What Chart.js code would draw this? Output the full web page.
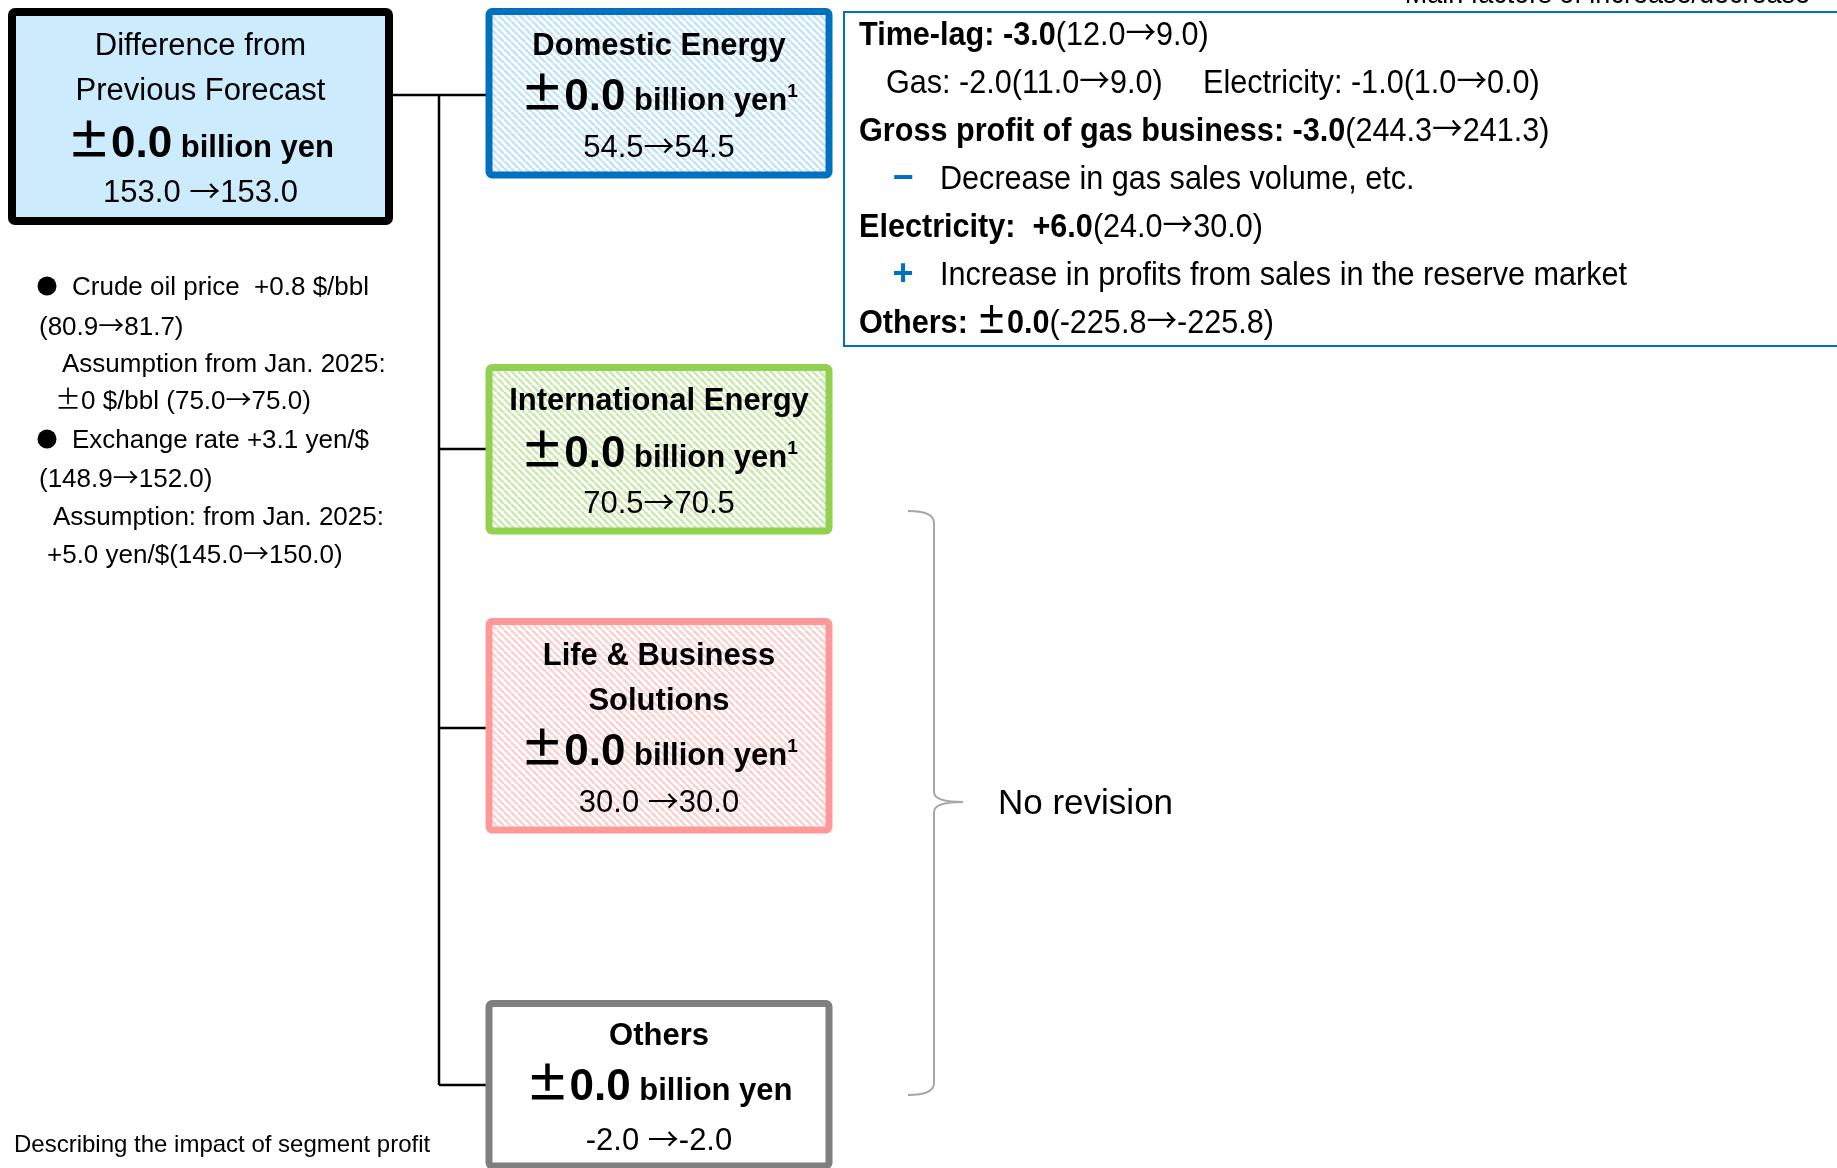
<!DOCTYPE html>
<html>
<head>
<meta charset="utf-8">
<script src="https://cdn.jsdelivr.net/npm/chart.js@4.4.1/dist/chart.umd.min.js"></script>
<style>
    html, body { margin: 0; padding: 0; background: #fff; overflow: hidden; }
    #wrap { width: 1837px; height: 1168px; position: relative; }
</style>
</head>
<body>
<div id="wrap"><canvas id="profitChart"></canvas></div>
<script>
// values
const totalTitle = ['Difference from', 'Previous Forecast'];
const totalPrev = 153.0;
const totalCurr = 153.0;

const segmentNames = [['Domestic Energy'], ['International Energy'], ['Life & Business', 'Solutions'], ['Others']];
const segmentPrev = [54.5, 70.5, 30.0, -2.0];
const segmentCurr = [54.5, 70.5, 30.0, -2.0];
const segmentNote = ['1', '1', '1', ''];
const segmentArrow = ['→', '→', ' →', ' →'];

const factorTitle = 'Main factors of increase/decrease';
const factorBold = ['Time-lag: -3.0', '', 'Gross profit of gas business: -3.0', '', 'Electricity:  +6.0', '', 'Others: ±0.0'];
const factorText = ['(12.0→9.0)', 'Gas: -2.0(11.0→9.0)', '(244.3→241.3)', 'Decrease in gas sales volume, etc.', '(24.0→30.0)', 'Increase in profits from sales in the reserve market', '(-225.8→-225.8)'];
const factorSecond = ['', 'Electricity: -1.0(1.0→0.0)', '', '', '', '', ''];
const factorMark = ['', '', '', '−', '', '+', ''];

const assumptionLines = ['Crude oil price  +0.8 $/bbl', '(80.9→81.7)', 'Assumption from Jan. 2025:', '±0 $/bbl (75.0→75.0)',
    'Exchange rate +3.1 yen/$', '(148.9→152.0)', 'Assumption: from Jan. 2025:', '+5.0 yen/$(145.0→150.0)'];
const assumptionBullet = [true, false, false, false, true, false, false, false];

const noRevisionText = 'No revision';
const footnoteText = 'Describing the impact of segment profit';

// layout in slide pixels (mapped through the chart scales)
const layout = {
    total: { x0: 12, y0: 12, x1: 389, y1: 221, base: [55, 100, 157, 202] },
    segX0: 489, segX1: 829,
    segs: [
        { y0: 11.5, y1: 175, base: [55, 110, 157] },
        { y0: 367.5, y1: 531, base: [410, 467, 513] },
        { y0: 621.5, y1: 830, base: [665, 710, 765, 812] },
        { y0: 1003.5, y1: 1166, base: [1045, 1100, 1150] }
    ],
    trunkX: 439,
    joinY: [95, 449, 728, 1085],
    factorBox: { x0: 844, y0: 12, x1: 1850, y1: 346 },
    factorX: 859, factorIndent: 886, factorSecondX: 1203, factorMarkX: 903, factorSubX: 940,
    factorBase: [45, 93, 141, 189, 237, 285, 333],
    assumeX: [72, 39, 62, 55, 72, 39, 53, 47],
    assumeBase: [295, 335, 372, 409, 448, 487, 525, 563],
    bulletX: 47,
    brace: { x0: 908, xm: 934, xt: 963, y0: 511, yt: 802, y1: 1095 },
    noRevision: { x: 998, y: 814 },
    footnote: { x: 14, y: 1152 },
    header: { x: 1810, y: 3 }
};

const segBorder = ['#0070C0', '#92D050', '#FF9999', '#7F7F7F'];
const segHatch = ['#C0E3F8', '#CBE8AE', '#FAD0D0', null];
const SANS = '"Liberation Sans", Arial, sans-serif';
const CJK = '"Noto Sans CJK JP", "Liberation Sans", sans-serif';

function fmtDiff(v) {
    const d = Math.round(v * 10) / 10;
    if (d === 0) return '±0.0';
    return (d > 0 ? '+' : '') + d.toFixed(1);
}

function hatchPattern(ctx, color) {
    const s = 7;
    const tile = document.createElement('canvas');
    tile.width = s;
    tile.height = s;
    const t = tile.getContext('2d');
    t.fillStyle = '#fff';
    t.fillRect(0, 0, s, s);
    t.strokeStyle = color;
    t.lineWidth = 2.5;
    for (const off of [-s, 0, s]) {
        t.beginPath();
        t.moveTo(off, 0);
        t.lineTo(off + s, s);
        t.stroke();
    }
    return ctx.createPattern(tile, 'repeat');
}

// arrows and plus-minus signs come from the CJK font, like the slide
function splitRuns(runs) {
    const out = [];
    runs.forEach(r => {
        r.text.split(/([→±])/).forEach(piece => {
            if (!piece) return;
            out.push(Object.assign({}, r, { text: piece, family: /[→±]/.test(piece) ? CJK : SANS }));
        });
    });
    return out;
}

// draw a row of text pieces, each {text, size, bold, sx, color, rise}
function drawRuns(ctx, x, y, runsIn, align) {
    const runs = splitRuns(runsIn);
    let total = 0;
    const widths = runs.map(r => {
        ctx.font = (r.bold ? 'bold ' : '') + r.size + 'px ' + r.family;
        const w = ctx.measureText(r.text).width * (r.sx || 1);
        total += w;
        return w;
    });
    let cx = align === 'center' ? x - total / 2 : (align === 'right' ? x - total : x);
    runs.forEach((r, i) => {
        ctx.save();
        ctx.font = (r.bold ? 'bold ' : '') + r.size + 'px ' + r.family;
        ctx.fillStyle = r.color || '#000';
        ctx.textBaseline = 'alphabetic';
        ctx.textAlign = 'left';
        ctx.translate(cx, y - (r.rise || 0));
        ctx.scale(r.sx || 1, 1);
        ctx.fillText(r.text, 0, 0);
        ctx.restore();
        cx += widths[i];
    });
    return total;
}

function amountRuns(diff, note) {
    const runs = [
        { text: fmtDiff(diff), size: 44, bold: true },
        { text: ' billion yen', size: 31, bold: true }
    ];
    if (note) runs.push({ text: note, size: 19, bold: true, rise: 13 });
    return runs;
}

const diagramPlugin = {
    id: 'diagram',
    afterDatasetsDraw(chart) {
        const ctx = chart.ctx;
        const X = v => chart.scales.x.getPixelForValue(v);
        const Y = v => chart.scales.y.getPixelForValue(v);
        ctx.save();

        // header cut off at top edge
        drawRuns(ctx, X(layout.header.x), Y(layout.header.y),
            [{ text: factorTitle, size: 30, sx: 0.9 }], 'right');

        // total box
        const tb = layout.total;
        ctx.fillStyle = '#CCEBFD';
        ctx.strokeStyle = '#000';
        ctx.lineWidth = 8;
        ctx.beginPath();
        ctx.roundRect(X(tb.x0), Y(tb.y0), X(tb.x1) - X(tb.x0), Y(tb.y1) - Y(tb.y0), 3);
        ctx.fill();
        ctx.stroke();
        const tcx = X((tb.x0 + tb.x1) / 2);
        drawRuns(ctx, tcx, Y(tb.base[0]), [{ text: totalTitle[0], size: 31 }], 'center');
        drawRuns(ctx, tcx, Y(tb.base[1]), [{ text: totalTitle[1], size: 31 }], 'center');
        drawRuns(ctx, tcx, Y(tb.base[2]), amountRuns(totalCurr - totalPrev, ''), 'center');
        drawRuns(ctx, tcx, Y(tb.base[3]), [{ text: totalPrev.toFixed(1) + ' →' + totalCurr.toFixed(1), size: 31 }], 'center');

        // segment boxes
        segmentNames.forEach((name, i) => {
            const sb = layout.segs[i];
            const x0 = X(layout.segX0), x1 = X(layout.segX1), y0 = Y(sb.y0), y1 = Y(sb.y1);
            ctx.fillStyle = segHatch[i] ? hatchPattern(ctx, segHatch[i]) : '#fff';
            ctx.strokeStyle = segBorder[i];
            ctx.lineWidth = 7;
            ctx.beginPath();
            ctx.roundRect(x0, y0, x1 - x0, y1 - y0, 3);
            ctx.fill();
            ctx.stroke();
            const cx = (x0 + x1) / 2;
            let k = 0;
            name.forEach(line => {
                drawRuns(ctx, cx, Y(sb.base[k++]), [{ text: line, size: 31, bold: true }], 'center');
            });
            drawRuns(ctx, cx, Y(sb.base[k++]), amountRuns(segmentCurr[i] - segmentPrev[i], segmentNote[i]), 'center');
            drawRuns(ctx, cx, Y(sb.base[k]), [{ text: segmentPrev[i].toFixed(1) + segmentArrow[i] + segmentCurr[i].toFixed(1), size: 31 }], 'center');
        });

        // factor box
        const fb = layout.factorBox;
        ctx.strokeStyle = '#0070C0';
        ctx.lineWidth = 2;
        ctx.strokeRect(X(fb.x0), Y(fb.y0), X(fb.x1) - X(fb.x0), Y(fb.y1) - Y(fb.y0));
        factorText.forEach((txt, i) => {
            const by = Y(layout.factorBase[i]);
            if (factorBold[i]) {
                drawRuns(ctx, X(layout.factorX), by, [
                    { text: factorBold[i], size: 34, bold: true, sx: 0.9 },
                    { text: txt, size: 34, sx: 0.9 }
                ], 'left');
            } else if (factorMark[i]) {
                drawRuns(ctx, X(layout.factorMarkX), by, [{ text: factorMark[i], size: 36, bold: true, color: '#0070C0' }], 'center');
                drawRuns(ctx, X(layout.factorSubX), by, [{ text: txt, size: 34, sx: 0.9 }], 'left');
            } else {
                drawRuns(ctx, X(layout.factorIndent), by, [{ text: txt, size: 34, sx: 0.9 }], 'left');
                if (factorSecond[i]) drawRuns(ctx, X(layout.factorSecondX), by, [{ text: factorSecond[i], size: 34, sx: 0.9 }], 'left');
            }
        });

        // assumptions on the left
        assumptionLines.forEach((line, i) => {
            const by = Y(layout.assumeBase[i]);
            if (assumptionBullet[i]) {
                ctx.fillStyle = '#000';
                ctx.beginPath();
                ctx.arc(X(layout.bulletX), by - 9, 9.5, 0, Math.PI * 2);
                ctx.fill();
            }
            drawRuns(ctx, X(layout.assumeX[i]), by, [{ text: line, size: 26 }], 'left');
        });

        // brace and no revision
        const b = layout.brace;
        ctx.strokeStyle = '#A6A6A6';
        ctx.lineWidth = 2;
        ctx.beginPath();
        ctx.moveTo(X(b.x0), Y(b.y0));
        ctx.quadraticCurveTo(X(b.xm), Y(b.y0), X(b.xm), Y(b.y0 + 12));
        ctx.lineTo(X(b.xm), Y(b.yt - 10));
        ctx.quadraticCurveTo(X(b.xm), Y(b.yt), X(b.xt), Y(b.yt));
        ctx.quadraticCurveTo(X(b.xm), Y(b.yt), X(b.xm), Y(b.yt + 10));
        ctx.lineTo(X(b.xm), Y(b.y1 - 12));
        ctx.quadraticCurveTo(X(b.xm), Y(b.y1), X(b.x0), Y(b.y1));
        ctx.stroke();
        drawRuns(ctx, X(layout.noRevision.x), Y(layout.noRevision.y), [{ text: noRevisionText, size: 35 }], 'left');

        drawRuns(ctx, X(layout.footnote.x), Y(layout.footnote.y), [{ text: footnoteText, size: 24 }], 'left');
        ctx.restore();
    }
};

// connector lines as line datasets
const connectors = [[{ x: layout.total.x1, y: layout.joinY[0] }, { x: layout.trunkX, y: layout.joinY[0] }],
    [{ x: layout.trunkX, y: layout.joinY[0] }, { x: layout.trunkX, y: layout.joinY[layout.joinY.length - 1] }]];
layout.joinY.forEach(y => connectors.push([{ x: layout.trunkX, y: y }, { x: layout.segX0, y: y }]));

const ctx = document.getElementById('profitChart').getContext('2d');
new Chart(ctx, {
    type: 'scatter',
    data: {
        datasets: connectors.map(pts => ({
            type: 'line',
            data: pts,
            borderColor: '#000',
            borderWidth: 2.5,
            pointRadius: 0,
            fill: false,
            tension: 0
        }))
    },
    options: {
        responsive: true,
        maintainAspectRatio: false,
        animation: false,
        events: [],
        layout: { padding: 0 },
        plugins: { legend: { display: false }, tooltip: { enabled: false } },
        scales: {
            x: { type: 'linear', min: 0, max: 1837, display: false },
            y: { type: 'linear', min: 0, max: 1168, reverse: true, display: false }
        }
    },
    plugins: [diagramPlugin]
});
</script>
</body>
</html>
